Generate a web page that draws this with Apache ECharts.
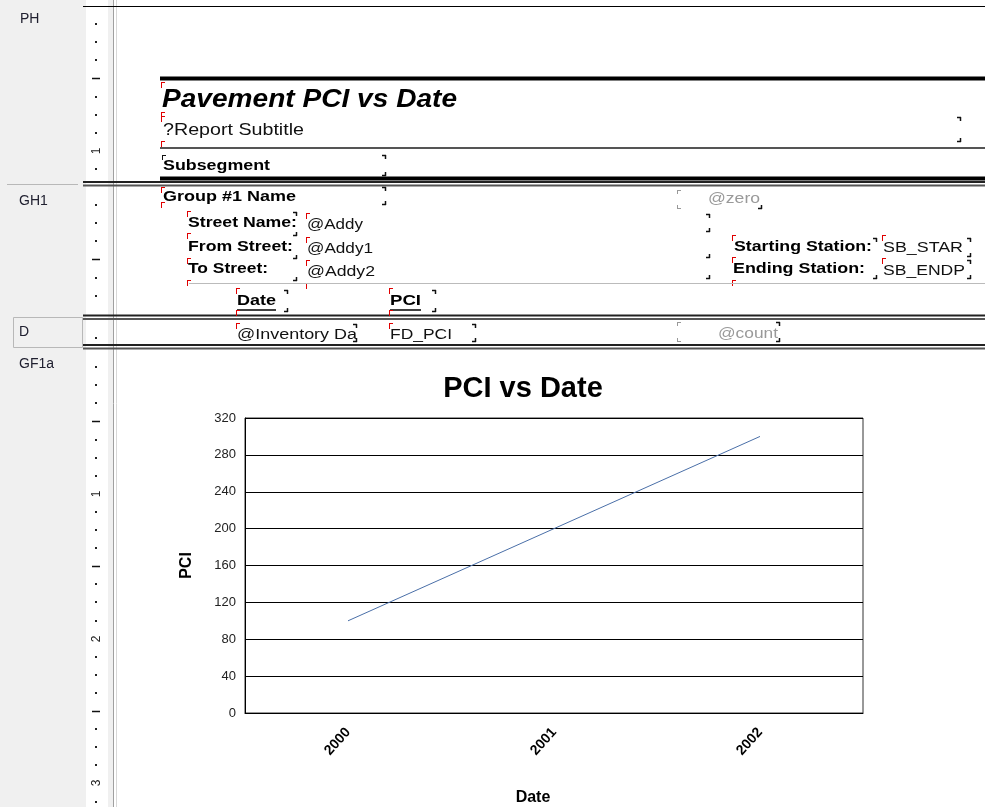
<!DOCTYPE html>
<html><head><meta charset="utf-8">
<script src="https://cdn.jsdelivr.net/npm/echarts@6/dist/echarts.min.js"></script>
<style>html,body{margin:0;padding:0;background:#fff}#c{width:985px;height:807px}</style>
</head><body><div id="c"></div>
<script>
// ---- data ----
const categories = ['2000', '2001', '2002'];
const pciValues = [100, 200, 300];
const yMin = 0, yMax = 320, yStep = 40;
const chartTitle = 'PCI vs Date';
const xName = 'Date';
const yName = 'PCI';
const sectionNames = ['PH', 'GH1', 'D', 'GF1a'];

const FONT = 'Liberation Sans, Arial, sans-serif';
const mctx = document.createElement('canvas').getContext('2d');
const g = [];
function rect(x, y, w, h, fill, stroke, lw) {
  g.push({type:'rect', shape:{x, y, width:w, height:h}, style:{fill: fill || 'none', stroke: stroke || null, lineWidth: lw || 1}, silent:true});
}
function line(x1, y1, x2, y2, color, w) {
  g.push({type:'line', shape:{x1, y1, x2, y2}, style:{stroke: color, lineWidth: w || 1}, silent:true});
}
function text(t, x, y, font, fill, align, rot, targetW) {
  const el = {type:'text', x, y, style:{text:t, x:0, y:0, font, fill: fill || '#000', textAlign: align || 'left', textVerticalAlign:'middle'}, silent:true};
  if (rot) el.rotation = rot;
  if (targetW) {
    mctx.font = font;
    const w = mctx.measureText(t).width;
    if (w > 0) el.scaleX = targetW / w;
  }
  g.push(el);
}
function red(x, y) { line(x + 0.5, y, x + 0.5, y + 6, '#e00000', 1); line(x, y + 0.5, x + 4, y + 0.5, '#e00000', 1); }
function brk(x, y, kind) {
  const c = '#111';
  if (kind === 'tr') { line(x - 4, y + 0.5, x, y + 0.5, c, 1.5); line(x - 0.5, y, x - 0.5, y + 4, c, 1.5); }
  if (kind === 'br') { line(x - 4, y - 0.5, x, y - 0.5, c, 1.5); line(x - 0.5, y - 4, x - 0.5, y, c, 1.5); }
  if (kind === 'tl') { line(x, y + 0.5, x + 4, y + 0.5, '#999', 1); line(x + 0.5, y, x + 0.5, y + 4, '#999', 1); }
  if (kind === 'bl') { line(x, y - 0.5, x + 4, y - 0.5, '#999', 1); line(x + 0.5, y - 4, x + 0.5, y, '#999', 1); }
}

// left section panel
rect(0, 0, 86, 807, '#f0f0f0');
rect(86, 0, 22, 807, '#ffffff');
rect(108, 0, 5, 807, '#f0f0f0');
line(113.5, 0, 113.5, 807, '#a0a0a0', 1);
line(116.5, 0, 116.5, 807, '#d8d8d8', 1);
line(7, 184.5, 78, 184.5, '#b8b8b8', 1);
rect(13.5, 317.5, 69, 30, null, '#b8b8b8', 1);
const secFont = '14px ' + FONT;
text(sectionNames[0], 20, 19, secFont, '#202030');
text(sectionNames[1], 19, 201, secFont, '#202030');
text(sectionNames[2], 19, 332, secFont, '#202030');
text(sectionNames[3], 19, 364, secFont, '#202030');

// rulers
function ruler(top, bottom) {
  let i = 1;
  for (let y = top + 18.1; y < bottom - 4; y += 18.1, i++) {
    if (i % 8 === 0) text(String(i / 8), 97, Math.round(y), '12px ' + FONT, '#222', 'center', Math.PI / 2);
    else if (i % 4 === 0) line(92, Math.round(y) + 0.5, 100, Math.round(y) + 0.5, '#111', 1.5);
    else rect(95, Math.round(y) - 1, 2, 2, '#222');
  }
}
ruler(6, 182); ruler(187, 316); ruler(320, 345); ruler(349, 807);

// section separators
line(83, 6.5, 985, 6.5, '#000', 1);
function dbl(y) { line(83, y, 985, y, '#222', 2); line(83, y + 3.5, 985, y + 3.5, '#555', 2); }
dbl(182); dbl(315.5); dbl(345);

// page header
line(160, 78.5, 985, 78.5, '#000', 4);
text('Pavement PCI vs Date', 162, 100, 'italic bold 26px ' + FONT, '#000', 'left', 0, 295);
text('?Report Subtitle', 163, 130, '17px ' + FONT, '#111', 'left', 0, 141);
red(161, 82); red(161, 112); red(161, 116); red(161, 141);
brk(961, 117, 'tr'); brk(961, 142, 'br');
line(160, 148, 985, 148, '#555', 2);
text('Subsegment', 163, 166, 'bold 15px ' + FONT, '#000', 'left', 0, 107);
brk(386, 155, 'tr'); brk(386, 176, 'br'); line(162.5, 155, 162.5, 160, '#111', 1); line(162, 155.5, 166, 155.5, '#111', 1);
line(160, 178.5, 985, 178.5, '#000', 4);

// group header
const labFont = 'bold 15px ' + FONT, valFont = '14px ' + FONT;
text('Group #1 Name', 163, 197, labFont, '#000', 'left', 0, 133);
red(161, 187); red(161, 202);
brk(386, 187, 'tr'); brk(386, 205, 'br');
text('@zero', 708, 199, valFont, '#999', 'left', 0, 52);
brk(677, 190, 'tl'); brk(677, 209, 'bl'); brk(762, 209, 'br');
text('Street Name:', 188, 223, labFont, '#000', 'left', 0, 109);
text('From Street:', 188, 247, labFont, '#000', 'left', 0, 105);
text('To Street:', 188, 269, labFont, '#000', 'left', 0, 80);
text('@Addy', 307, 225, valFont, '#111', 'left', 0, 56);
text('@Addy1', 307, 249, valFont, '#111', 'left', 0, 66);
text('@Addy2', 307, 272, valFont, '#111', 'left', 0, 68);
[211, 233, 258, 280].forEach(y => red(187, y));
[213, 237, 260, 283].forEach(y => red(306, y));
brk(297, 212, 'tr'); brk(297, 236, 'br'); brk(297, 259, 'br'); brk(297, 281, 'br');
brk(710, 214, 'tr'); brk(710, 232, 'br'); brk(710, 258, 'br'); brk(710, 279, 'br');
text('Starting Station:', 734, 247, labFont, '#000', 'left', 0, 138);
text('Ending Station:', 733, 269, labFont, '#000', 'left', 0, 132);
text('SB_STAR', 883, 248, valFont, '#111', 'left', 0, 80);
text('SB_ENDP', 883, 271, valFont, '#111', 'left', 0, 82);
red(732, 235); red(732, 257); red(732, 280); red(882, 235); red(882, 258);
brk(877, 238, 'tr'); brk(877, 279, 'br'); brk(971, 238, 'tr'); brk(971, 257, 'br'); brk(971, 260, 'tr'); brk(971, 279, 'br');
line(189, 283.5, 985, 283.5, '#bbb', 1);
text('Date', 237, 301, labFont, '#000', 'left', 0, 39);
line(237, 310, 276, 310, '#000', 1.5);
text('PCI', 390, 301, labFont, '#000', 'left', 0, 31);
line(390, 310, 421, 310, '#000', 1.5);
red(236, 288); red(236, 310); red(389, 288); red(389, 310);
brk(288, 290, 'tr'); brk(288, 312, 'br'); brk(436, 290, 'tr'); brk(436, 312, 'br');

// details
text('@Inventory Da', 237, 335, valFont, '#111', 'left', 0, 120);
text('FD_PCI', 390, 335, valFont, '#111', 'left', 0, 62);
text('@count', 718, 334, valFont, '#999', 'left', 0, 60);
red(236, 323); red(389, 323);
brk(357, 324, 'tr'); brk(357, 342, 'br'); brk(476, 324, 'tr'); brk(476, 342, 'br');
brk(677, 322, 'tl'); brk(677, 342, 'bl'); brk(780, 322, 'tr'); brk(780, 342, 'br');

const chart = echarts.init(document.getElementById('c'), null, {renderer:'canvas'});
chart.setOption({
  animation: false,
  backgroundColor: '#fff',
  title: {text: chartTitle, left: 523, top: 374, textAlign: 'center', padding: 0,
    textStyle: {fontFamily: FONT, fontSize: 29, fontWeight: 'bold', color: '#000'}},
  grid: {left: 245, top: 418, width: 618, height: 296, show: true, borderColor: '#333', borderWidth: 1, backgroundColor: 'transparent'},
  xAxis: {type: 'category', data: categories, boundaryGap: true,
    name: xName, nameLocation: 'middle', nameGap: 77,
    nameTextStyle: {fontFamily: FONT, fontSize: 16, fontWeight: 'bold', color: '#000', padding: [0, 42, 0, 0]},
    axisLine: {show: true, lineStyle: {color: '#000', width: 1}},
    axisTick: {show: false},
    axisLabel: {rotate: 48, margin: 17, fontFamily: FONT, fontSize: 14, fontWeight: 'bold', color: '#000'},
    splitLine: {show: false}},
  yAxis: {type: 'value', min: yMin, max: yMax, interval: yStep,
    name: yName, nameLocation: 'middle', nameGap: 50, nameRotate: 90,
    nameTextStyle: {fontFamily: FONT, fontSize: 16, fontWeight: 'bold', color: '#000'},
    axisLine: {show: true, lineStyle: {color: '#000', width: 1}},
    axisTick: {show: false},
    axisLabel: {margin: 9, fontFamily: FONT, fontSize: 13, color: '#222'},
    splitLine: {show: true, lineStyle: {color: '#000', width: 1}}},
  series: [{type: 'line', data: pciValues, symbol: 'none', lineStyle: {color: '#4a6fa8', width: 1}}],
  graphic: g
});
</script></body></html>
